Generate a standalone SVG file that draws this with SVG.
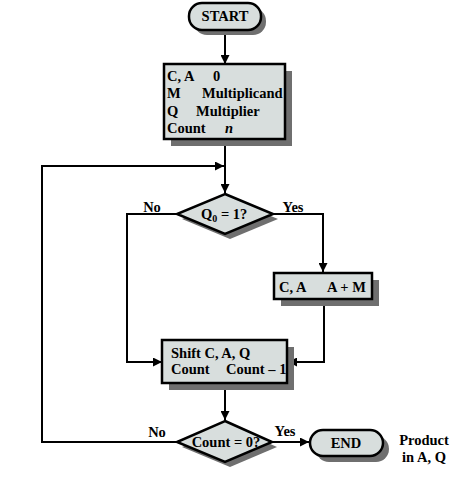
<svg xmlns="http://www.w3.org/2000/svg" width="464" height="501" viewBox="0 0 464 501">
<style>
.sh{fill:#6f6f6f;stroke:none}
.bx{fill:#d8dedd;stroke:#000;stroke-width:2.5}
.ln{fill:none;stroke:#000;stroke-width:2}
text{font-family:"Liberation Serif","Times New Roman",serif;font-weight:bold;font-size:14.5px;fill:#000}
.c{text-anchor:middle}
</style>
<defs>
<marker id="ah" viewBox="0 0 10 10" refX="10" refY="5" markerWidth="9" markerHeight="9" orient="auto" markerUnits="userSpaceOnUse">
<path d="M0,0 L10,5 L0,10 Z" fill="#000"/>
</marker>
</defs>
<rect width="464" height="501" fill="#fff"/>
<g id="connectors">
<line class="ln" x1="225" y1="30" x2="225" y2="64" marker-end="url(#ah)"/>
<line class="ln" x1="225" y1="139" x2="225" y2="193" marker-end="url(#ah)"/>
<polyline class="ln" points="177,442 42,442 42,166 224,166" marker-end="url(#ah)"/>
<polyline class="ln" points="273,214 323,214 323,272" marker-end="url(#ah)"/>
<polyline class="ln" points="177,214 127,214 127,362 162,362" marker-end="url(#ah)"/>
<polyline class="ln" points="324,299 324,362 288,362" marker-end="url(#ah)"/>
<line class="ln" x1="225" y1="383" x2="225" y2="420" marker-end="url(#ah)"/>
<line class="ln" x1="272" y1="442" x2="309" y2="442" marker-end="url(#ah)"/>
<text x="152" y="212" class="c">No</text>
<text x="293" y="212" class="c">Yes</text>
<text x="157" y="437" class="c">No</text>
<text x="285" y="436" class="c">Yes</text>
</g>
<g id="start">
<rect class="sh" x="194" y="8" width="72" height="27" rx="13"/>
<rect class="bx" x="189" y="3" width="72" height="27" rx="13"/>
<text x="225" y="21" class="c">START</text>
</g>
<g id="init">
<rect class="sh" x="171" y="71" width="121" height="75"/>
<rect class="bx" x="164" y="64" width="121" height="75"/>
<text x="167" y="81">C, A</text>
<text x="213" y="81">0</text>
<text x="167" y="98">M</text>
<text x="202" y="98">Multiplicand</text>
<text x="167" y="116">Q</text>
<text x="196" y="116">Multiplier</text>
<text x="167" y="133">Count</text>
<text x="225" y="133" font-style="italic">n</text>
</g>
<g id="q0">
<polygon class="sh" points="230,199 278,219 230,239 182,219"/>
<polygon class="bx" points="225,194 273,214 225,234 177,214"/>
<text x="201" y="219">Q<tspan font-size="10" dy="3">0</tspan><tspan dy="-3"> = 1?</tspan></text>
</g>
<g id="add">
<rect class="sh" x="281" y="280" width="98" height="26"/>
<rect class="bx" x="274" y="273" width="98" height="26"/>
<text x="279" y="292">C, A</text>
<text x="327" y="292">A + M</text>
</g>
<g id="shift">
<rect class="sh" x="169" y="347" width="125" height="43"/>
<rect class="bx" x="162" y="340" width="125" height="43"/>
<text x="171" y="358">Shift C, A, Q</text>
<text x="171" y="374">Count</text>
<text x="226" y="374">Count – 1</text>
</g>
<g id="count0">
<polygon class="sh" points="230,426 277,447 230,467 182,447"/>
<polygon class="bx" points="225,421 272,442 225,462 177,442"/>
<text x="226" y="447" class="c">Count = 0?</text>
</g>
<g id="end">
<rect class="sh" x="316" y="436" width="73" height="26" rx="13"/>
<rect class="bx" x="310" y="430" width="73" height="26" rx="13"/>
<text x="346" y="448" class="c">END</text>
</g>
<g id="product">
<text x="424" y="445" class="c">Product</text>
<text x="424" y="462" class="c">in A, Q</text>
</g>
</svg>
